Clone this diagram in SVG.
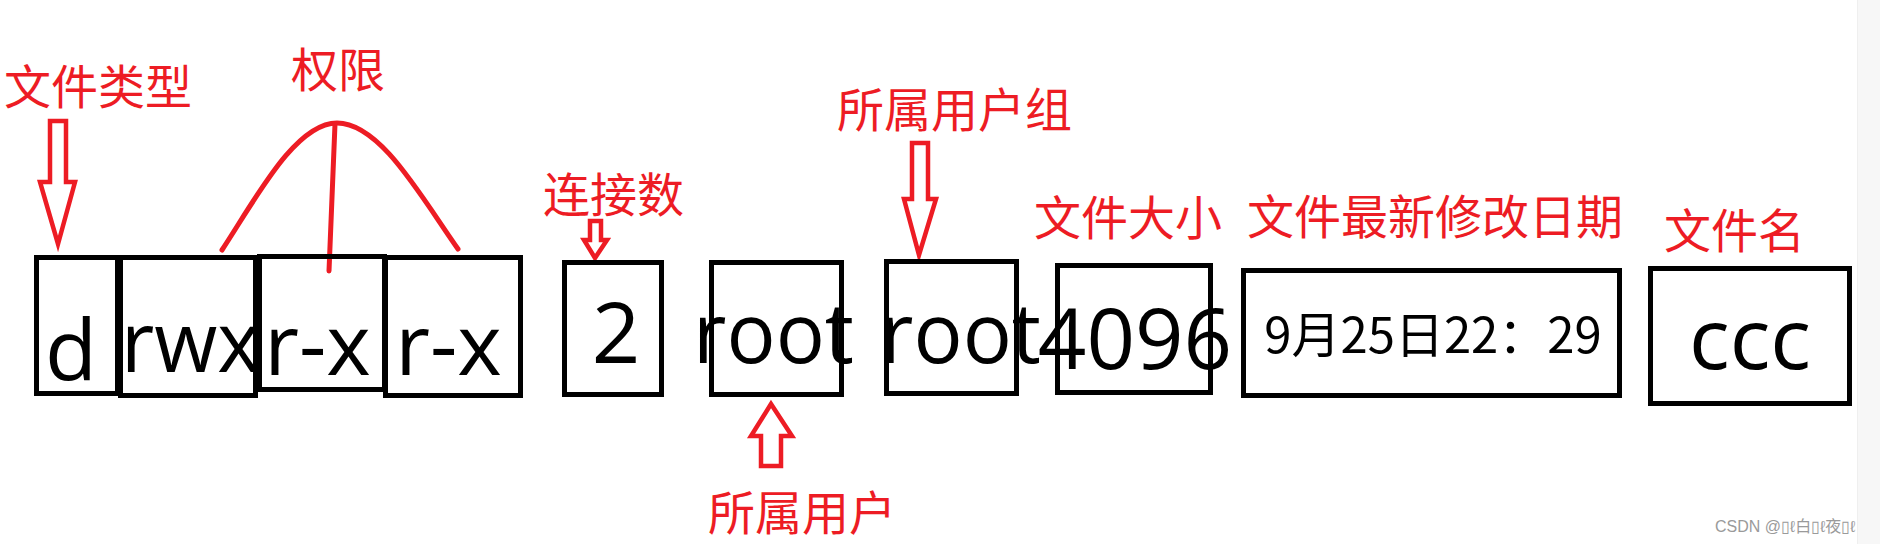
<svg xmlns="http://www.w3.org/2000/svg" width="1880" height="544" viewBox="0 0 1880 544">
<style>
.box{fill:none;stroke:#000;stroke-width:5}
.val{font-family:"Open Sans","Noto Sans","Liberation Sans",sans-serif;font-size:85px;fill:#000;text-anchor:middle}
.date{font-family:"Noto Sans CJK SC","Noto Sans",sans-serif;font-size:49px;fill:#000;text-anchor:middle}
.lbl{font-family:"Noto Sans CJK SC","Noto Sans",sans-serif;font-size:47px;fill:#ed1c24}
.arr{fill:#fff;stroke:#ed1c24;stroke-width:4.5;stroke-linejoin:miter}
.red{fill:none;stroke:#ed1c24;stroke-width:5;stroke-linecap:round}
.wm{font-family:"Liberation Sans","Noto Sans CJK SC",sans-serif;font-size:16px;fill:#9a9a9a}
</style>
<rect width="1880" height="544" fill="#fff"/>
<rect x="1857" y="0" width="23" height="544" fill="#f7f7f7"/>
<line x1="1857.5" y1="0" x2="1857.5" y2="544" stroke="#efefef" stroke-width="1"/>

<g id="labels">
<text class="lbl" x="4" y="104">文件类型</text>
<text class="lbl" x="291" y="87">权限</text>
<text class="lbl" x="543" y="212">连接数</text>
<text class="lbl" x="837" y="127">所属用户组</text>
<text class="lbl" x="1034" y="235">文件大小</text>
<text class="lbl" x="1247" y="234">文件最新修改日期</text>
<text class="lbl" x="1664" y="248">文件名</text>
<text class="lbl" x="708" y="530">所属用户</text>
</g>

<g id="connectors">
<polygon class="arr" points="50,121 66,121 66,182 75,182 58,244 40,182 50,182"/>
<polygon class="arr" points="590,221 601,221 601,240 607,240 595,258 584,240 590,240"/>
<polygon class="arr" points="912,143 928,143 928,199 936,199 919,255 904,199 912,199"/>
<polygon class="arr" points="761,466 781,466 781,436 792,436 771,404 751,436 761,436"/>
<path class="red" d="M222,250 C255,200 295,123 337,123 C380,123 420,195 458,249"/>
<line class="red" x1="335" y1="124" x2="329" y2="271"/>
</g>

<g id="node-type"><rect class="box" x="36.5" y="257.5" width="81" height="136"/><text class="val" x="71" y="380">d</text></g>
<g id="node-owner-perm"><rect class="box" x="120.5" y="257.5" width="135" height="138"/><text class="val" x="190.5" y="372" textLength="139" lengthAdjust="spacingAndGlyphs">rwx</text></g>
<g id="node-group-perm"><rect class="box" x="259.5" y="256.5" width="125" height="133"/><text class="val" x="317.5" y="375">r-x</text></g>
<g id="node-other-perm"><rect class="box" x="385.5" y="257.5" width="135" height="138"/><text class="val" x="448.5" y="375">r-x</text></g>
<g id="node-links"><rect class="box" x="564.5" y="262.5" width="97" height="132"/><text class="val" x="616" y="363">2</text></g>
<g id="node-user"><rect class="box" x="711.5" y="262.5" width="130" height="132"/><text class="val" x="773.5" y="363" textLength="161" lengthAdjust="spacingAndGlyphs">root</text></g>
<g id="node-group"><rect class="box" x="886.5" y="261.5" width="130" height="132"/><text class="val" x="960.5" y="363" textLength="161" lengthAdjust="spacingAndGlyphs">root</text></g>
<g id="node-size"><rect class="box" x="1057.5" y="265.5" width="153" height="127"/><text class="val" x="1135" y="369">4096</text></g>
<g id="node-date"><rect class="box" x="1243.5" y="270.5" width="376" height="125"/><text class="date" x="1433" y="353">9月25日22：29</text></g>
<g id="node-name"><rect class="box" x="1650.5" y="268.5" width="199" height="135"/><text class="val" x="1750" y="369">ccc</text></g>

<text class="wm" x="1715" y="532">CSDN @▯ℓ白▯ℓ夜▯ℓ</text>
</svg>
